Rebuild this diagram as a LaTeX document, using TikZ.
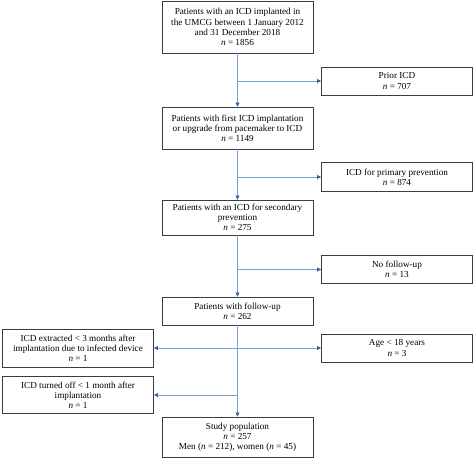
\documentclass[tikz,border=0pt]{standalone}
\usepackage{fontspec}
\setmainfont{Liberation Serif}
\usetikzlibrary{arrows.meta}
\definecolor{linec}{RGB}{120,160,210}
\definecolor{tipc}{RGB}{50,95,160}
\definecolor{boxc}{RGB}{60,60,60}
\tikzset{
  box/.style={draw=boxc, line width=0.9pt, fill=white, align=center, inner sep=1pt,
    minimum width=151pt, font=\fontsize{9.2pt}{10.2pt}\selectfont},
  arr/.style={draw=linec, line width=0.8pt, -{Triangle[length=4pt,width=4pt,color=tipc]}},
  ln/.style={draw=linec, line width=0.8pt}
}
\begin{document}
\begin{tikzpicture}[x=1pt,y=-1pt]
\useasboundingbox (0,0) rectangle (474,459);
\node[box, minimum height=52pt] (b1) at (237.5,27) {Patients with an ICD implanted in\\the UMCG between 1 January 2012\\and 31 December 2018\\\textit{n} = 1856};
\node[box, minimum height=28pt] (prior) at (397,81) {Prior ICD\\\textit{n} = 707};
\node[box, minimum height=42pt] (b2) at (237.5,128) {Patients with first ICD implantation\\or upgrade from pacemaker to ICD\\\textit{n} = 1149};
\node[box, minimum height=29pt] (prim) at (397,177) {ICD for primary prevention\\\textit{n} = 874};
\node[box, minimum height=35pt] (b3) at (237.5,217.5) {Patients with an ICD for secondary\\prevention\\\textit{n} = 275};
\node[box, minimum height=28pt] (nofu) at (397,269.5) {No follow-up\\\textit{n} = 13};
\node[box, minimum height=28pt] (fu) at (237.5,311) {Patients with follow-up\\\textit{n} = 262};
\node[box, minimum height=38pt] (extr) at (78,348) {ICD extracted < 3 months after\\implantation due to infected device\\\textit{n} = 1};
\node[box, minimum height=28pt] (age) at (397,348) {Age < 18 years\\\textit{n} = 3};
\node[box, minimum height=37pt] (off) at (78,395) {ICD turned off < 1 month after\\implantation\\\textit{n} = 1};
\node[box, minimum height=40pt] (study) at (237.5,437) {Study population\\\textit{n} = 257\\Men (\textit{n} = 212), women (\textit{n} = 45)};
\draw[arr] (b1.south) -- (b2.north);
\draw[arr] (b1.south |- prior.west) -- (prior.west);
\draw[arr] (b2.south) -- (b3.north);
\draw[arr] (b2.south |- prim.west) -- (prim.west);
\draw[arr] (b3.south) -- (fu.north);
\draw[arr] (b3.south |- nofu.west) -- (nofu.west);
\draw[arr] (fu.south) -- (study.north);
\draw[arr] (fu.south |- age.west) -- (age.west);
\draw[arr] (fu.south |- age.west) -- (extr.east |- age.west);
\draw[arr] (fu.south |- off.east) -- (off.east);
\end{tikzpicture}
\end{document}
